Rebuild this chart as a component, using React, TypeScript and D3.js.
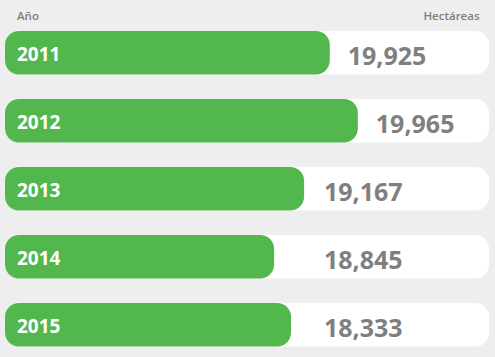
import React from "react";
import * as d3 from "d3";

const years = ["2011", "2012", "2013", "2014", "2015"];
const hectares = [19925, 19965, 19167, 18845, 18333];
// bar fill length as share (%) of the row track
const barShare = [67.1, 72.9, 61.8, 55.6, 59.1];
const headerLeft = "Año";
const headerRight = "Hectáreas";

const W = 495;
const H = 357;

export default function App() {
  const x = d3.scaleLinear().domain([0, 100]).range([5, 489]);
  const y = d3
    .scaleBand<string>()
    .domain(years)
    .range([31, 346.5])
    .paddingInner(24.5 / 68)
    .paddingOuter(0);
  const fmt = d3.format(",");
  const font = "'Open Sans', 'Liberation Sans', Arial, sans-serif";
  const r = 14;
  return (
    <svg
      width={W}
      height={H}
      style={{ position: "absolute", left: 0, top: 0, display: "block" }}
    >
      <rect x={0} y={0} width={W} height={H} fill="#eeeeee" />
      <text x={17} y={20} fill="#7f7f7f" fontFamily={font} fontSize={11.5} fontWeight={600}>
        {headerLeft}
      </text>
      <text x={479.5} y={20} fill="#7f7f7f" fontFamily={font} fontSize={11.5} fontWeight={600} textAnchor="end">
        {headerRight}
      </text>
      {years.map((yr, i) => {
        const top = y(yr)!;
        const bw = y.bandwidth();
        const end = x(barShare[i]);
        const tx = Math.max(end + 18, 324);
        return (
          <g key={yr}>
            <rect x={x(0)} y={top} width={x(100) - x(0)} height={bw} rx={r} ry={r} fill="#ffffff" />
            <rect x={x(0)} y={top} width={end - x(0)} height={bw} rx={r} ry={r} fill="#52b84d" />
            <text x={17} y={top + 30} fill="#ffffff" fontFamily={font} fontSize={19} fontWeight={700}>
              {yr}
            </text>
            <text x={tx} y={top + 34.3} fill="#7f7f7f" fontFamily={font} fontSize={25} fontWeight={700}>
              {fmt(hectares[i])}
            </text>
          </g>
        );
      })}
    </svg>
  );
}
